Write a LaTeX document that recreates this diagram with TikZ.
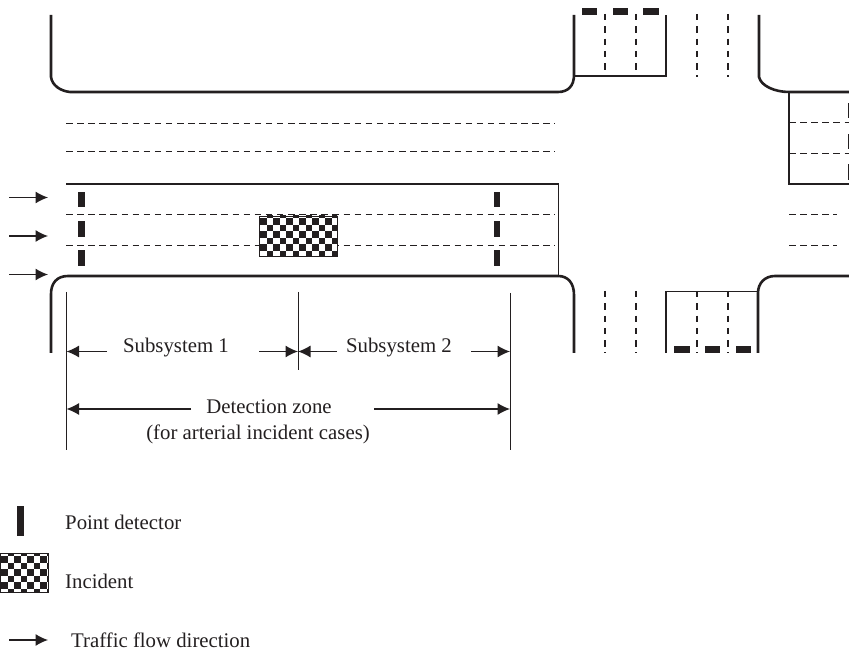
\documentclass[tikz,border=0pt]{standalone}
\usepackage{fontspec}
\setmainfont{Liberation Serif}
\usetikzlibrary{arrows.meta, positioning}
\definecolor{ink}{RGB}{35,31,32}

\begin{document}
\begin{tikzpicture}[x=1pt, y=-1pt, ink,
  curb/.style={line width=2.6pt},
  kerb/.style={line width=1.7pt},
  tick/.style={line width=1pt},
  lane/.style={line width=1.3pt, dash pattern=on 6.5pt off 4.6pt},
  lanev/.style={line width=1.3pt, dash pattern=on 6.5pt off 5.8pt},
  flow/.style={line width=1.2pt, -{Latex[length=12.5pt, width=12pt]}},
  label/.style={font=\fontsize{20.8}{25}\selectfont, inner sep=0pt},
  detv/.style={fill=ink, minimum width=6.5pt, minimum height=15.5pt, inner sep=0pt},
  deth/.style={fill=ink, minimum width=15.5pt, minimum height=6.5pt, inner sep=0pt},
  checker/.style={draw=ink, line width=0.9pt, inner sep=0pt, fill=white,
    path picture={
      \foreach \i in {0,...,12}
        \foreach \j in {0,...,7} {
          \pgfmathparse{int(mod(\i+\j,2))}
          \ifnum\pgfmathresult=1
            \fill[ink] ([shift={(\i*6.5pt+1pt,-\j*6.5pt+4pt)}]path picture bounding box.north west)
              rectangle ++(6.5pt,-6.5pt);
          \fi
        }
    }},
]
\useasboundingbox (0,0) rectangle (849,652);

% curbs
\draw[curb] (51,15) -- (51,77) .. controls (52,85) and (60,91) .. (70,92) -- (558,92)
  .. controls (568,92) and (574,86) .. (574,75) -- (574,15);
\draw[curb] (759,15) -- (759,77) .. controls (761,86) and (775,92) .. (789,92) -- (849,92);
\draw[curb] (51,353) -- (51,294) .. controls (51,283) and (57,276) .. (68,276) -- (558,276)
  .. controls (568,276) and (574,283) .. (574,295) -- (574,353);
\draw[curb] (758,353) -- (758,293) .. controls (758,283) and (765,276) .. (775,276) -- (849,276);

% stop bars and kerb lines
\draw[kerb] (66,184) -- (558.5,184) -- (558.5,276);
\draw[kerb] (574,76) -- (666,76) -- (666,15);
\draw[kerb] (789,92) -- (789,184) -- (849,184);
\draw[kerb] (666,353) -- (666,291.5) -- (758,291.5);

% lane markings
\foreach \y in {123.5,151.5}
  \draw[lane] (66,\y) -- (555,\y);
\foreach \y in {214.5,245.5} {
  \draw[lane] (66,\y) -- (555,\y);
  \draw[lane] (789,\y) -- (837,\y);
}
\foreach \y in {122.5,153.5}
  \draw[lane] (789,\y) -- (849,\y);
\foreach \x in {605,636,697,728}
  \draw[lanev] (\x,14) -- (\x,77);
\foreach \x in {605,636,697,728}
  \draw[lanev] (\x,291) -- (\x,353);

% detectors
\foreach \x/\n in {81.5/a,497/b}
  \foreach \y/\m in {199.5/1,229/2,258/3}
    \node[detv] (det\n\m) at (\x,\y) {};
\foreach \y/\m in {110.5/1,141.5/2,172/3}
  \node[detv, anchor=west] (detc\m) at (848,\y) {};
\foreach \x/\m in {589.5/1,620.5/2,651/3}
  \node[deth] (detd\m) at (\x,11.5) {};
\foreach \x/\m in {682/1,712.5/2,743.5/3}
  \node[deth] (dete\m) at (\x,349.5) {};

% incident
\node[checker, minimum width=78pt, minimum height=40pt] (incident) at (298,236) {};

% flow arrows
\foreach \y/\m in {197.5/1,236/2,274.5/3} {
  \coordinate (in\m) at (9,\y);
  \coordinate (out\m) at (48,\y);
  \draw[flow] (in\m) -- (out\m);
}

% subsystem and zone extents
\coordinate (zoneA) at (66.5,292);
\coordinate (zoneB) at (66.5,450);
\coordinate (midA) at (298,292);
\coordinate (midB) at (298,370);
\coordinate (endA) at (510,293);
\coordinate (endB) at (510,450);
\draw[tick] (zoneA) -- (zoneB);
\draw[tick] (midA) -- (midB);
\draw[tick] (endA) -- (endB);

\node[label] (subone) at (176,348) {Subsystem 1};
\node[label] (subtwo) at (399,348) {Subsystem 2};
\node[label] (zone) at (269,407) {Detection zone};
\node[label] (zonenote) at (258,434) {(for arterial incident cases)};

\coordinate (s1l) at (107,351.5);
\coordinate (s1r) at (259,351.5);
\coordinate (s2l) at (337,351.5);
\coordinate (s2r) at (471,351.5);
\coordinate (zl) at (191,409);
\coordinate (zr) at (374,409);
\draw[flow] (s1l) -- (s1l -| zoneA);
\draw[flow] (s1r) -- (s1r -| midA);
\draw[flow] (s2l) -- (s2l -| midA);
\draw[flow] (s2r) -- (s2r -| endA);
\draw[flow] (zl) -- (zl -| zoneA);
\draw[flow] (zr) -- (zr -| endA);

% legend
\node[detv, minimum height=30pt] (keydet) at (20.5,521) {};
\node[checker, minimum width=48pt, minimum height=39pt] (keyinc) at (24,573) {};
\coordinate (keyin) at (9,640);
\coordinate (keyout) at (48,640);
\draw[flow] (keyin) -- (keyout);
\node[label, anchor=west] (keydettext) at (65,522) {Point detector};
\node[label, anchor=west] (keyinctext) at (65,581) {Incident};
\node[label, anchor=west] (keyflowtext) at (71,640) {Traffic flow direction};
\end{tikzpicture}
\end{document}
